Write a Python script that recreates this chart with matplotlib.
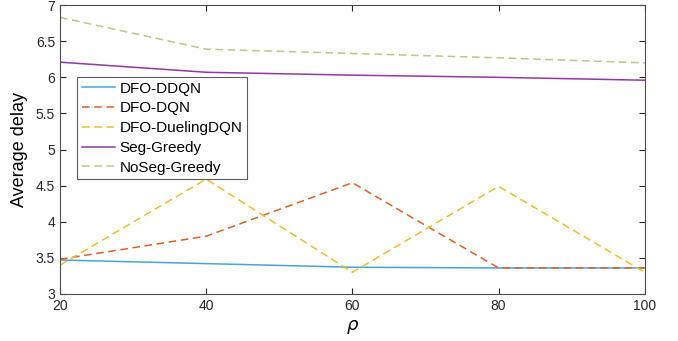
import matplotlib
matplotlib.use('Agg')
import matplotlib.pyplot as plt

plt.rcParams['font.family'] = ['Liberation Sans', 'DejaVu Sans']

rho = [20, 40, 60, 80, 100]
ddqn = [3.47, 3.42, 3.37, 3.36, 3.36]
dqn = [3.48, 3.80, 4.54, 3.36, 3.36]
dueling = [3.40, 4.59, 3.30, 4.49, 3.30]
seg = [6.21, 6.07, 6.03, 6.00, 5.96]
noseg = [6.83, 6.39, 6.33, 6.27, 6.20]

fig = plt.figure(figsize=(6.78, 3.41), dpi=100)
ax = fig.add_axes([0.0885, 0.138, 0.8625, 0.847])

ax.plot(rho, ddqn, color='#4aa5d5', linestyle='-', linewidth=1.1, label='DFO-DDQN')
ax.plot(rho, dqn, color='#d9622b', linestyle=(0, (5, 3)), linewidth=1.1, label='DFO-DQN')
ax.plot(rho, dueling, color='#e8c030', linestyle=(0, (5, 3)), linewidth=1.1, label='DFO-DuelingDQN')
ax.plot(rho, seg, color='#8e3a9e', linestyle='-', linewidth=1.1, label='Seg-Greedy')
ax.plot(rho, noseg, color='#b8c98a', linestyle=(0, (5, 3)), linewidth=1.1, label='NoSeg-Greedy')

ax.set_xlim(20, 100)
ax.set_ylim(3, 7)
ax.set_xticks([20, 40, 60, 80, 100])
ax.set_yticks([3, 3.5, 4, 4.5, 5, 5.5, 6, 6.5, 7])
ax.set_yticklabels(['3', '3.5', '4', '4.5', '5', '5.5', '6', '6.5', '7'])
ax.tick_params(direction='in', top=True, right=True, labelsize=10, colors='#262626', length=4)
for s in ax.spines.values():
    s.set_color('#4d4d4d')
    s.set_linewidth(0.8)

ax.set_xlabel(r'$\rho$', fontsize=13, labelpad=4)
ax.set_ylabel('Average delay', fontsize=13, labelpad=6)

leg = ax.legend(loc='upper left', bbox_to_anchor=(0.029, 0.751), borderaxespad=0,
                fontsize=11, frameon=True, fancybox=False, handlelength=2.2,
                handletextpad=0.3, labelspacing=0.38, borderpad=0.3)
leg.get_frame().set_edgecolor('#333333')
leg.get_frame().set_linewidth(0.8)

plt.savefig('out.png', dpi=100)
